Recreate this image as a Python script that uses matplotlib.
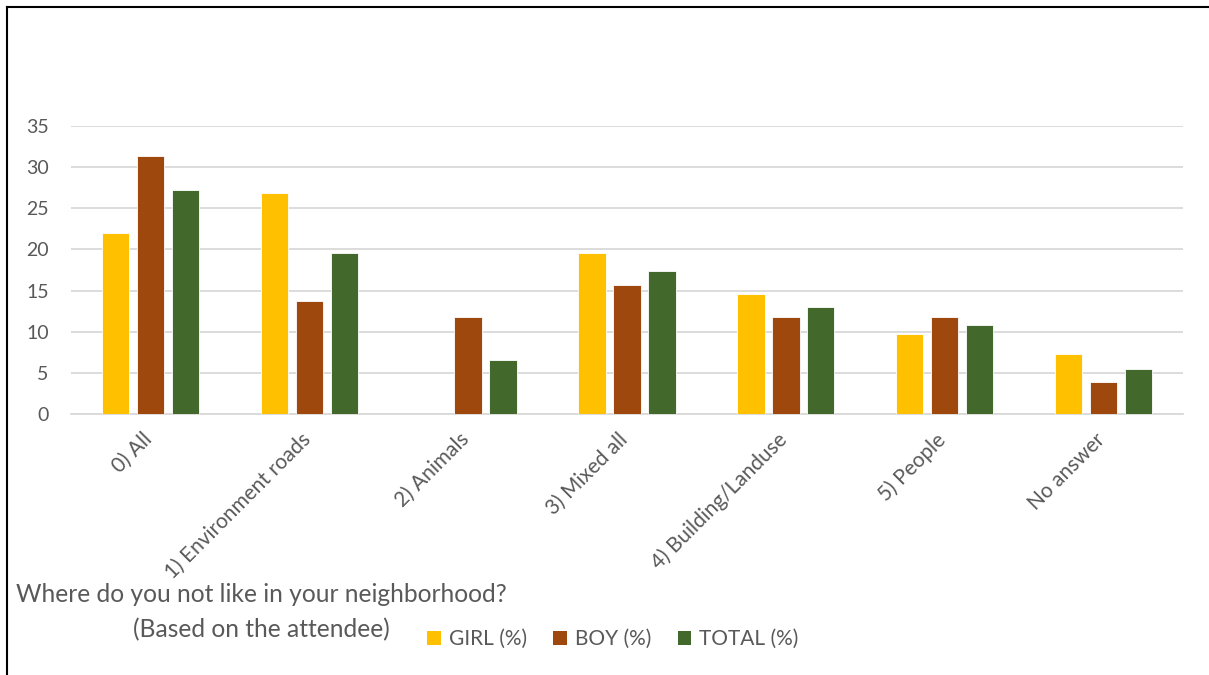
import matplotlib
matplotlib.use("Agg")
import matplotlib.pyplot as plt
import numpy as np
from matplotlib.lines import Line2D
from matplotlib.patches import Patch
from matplotlib.transforms import ScaledTranslation

categories = ["0) All", "1) Environment roads", "2) Animals", "3) Mixed all",
              "4) Building/Landuse", "5) People", "No answer"]
girl = [21.95, 26.83, 0.0, 19.51, 14.63, 9.76, 7.32]
boy = [31.37, 13.73, 11.76, 15.69, 11.76, 11.76, 3.92]
total = [27.17, 19.57, 6.52, 17.39, 13.04, 10.87, 5.43]
series_names = ["GIRL (%)", "BOY (%)", "TOTAL (%)"]
colors = ["#FFC000", "#9E480E", "#43682B"]
yticks = [0, 5, 10, 15, 20, 25, 30, 35]

plt.rcParams['font.family'] = ['Lato', 'DejaVu Sans']

W, H = 1209, 675
fig = plt.figure(figsize=(W / 100, H / 100), dpi=100)
fig.patch.set_facecolor("white")

ax = fig.add_axes([71 / W, 1 - 414 / H, (1183 - 71) / W, (414 - 126) / H])
x = np.arange(len(categories))
bw = 0.172
off = 0.22
for i, (vals, c, name) in enumerate(zip([girl, boy, total], colors, series_names)):
    ax.bar(x + (i - 1) * off, vals, width=bw, color=c, edgecolor="white",
           linewidth=0.6, label=name, zorder=3)

ax.set_xlim(-0.5, len(categories) - 0.5)
ax.set_ylim(0, 35)
ax.set_yticks(yticks)
ax.yaxis.grid(True, color="#D9D9D9", linewidth=1.3, zorder=0)
ax.set_axisbelow(True)
for s in ["top", "right", "left"]:
    ax.spines[s].set_visible(False)
ax.spines["bottom"].set_color("#D9D9D9")
ax.spines["bottom"].set_linewidth(1.3)
ax.tick_params(axis="both", length=0, labelcolor="#595959")
ax.tick_params(axis="y", pad=16, labelsize=14)
ax.tick_params(axis="x", pad=11, labelsize=15)
ax.set_xticks(x)
ax.set_xticklabels(categories, rotation=45, ha="right", va="top",
                   rotation_mode="anchor")
shift = ScaledTranslation(-9 / 100, 0, fig.dpi_scale_trans)
for lab in ax.get_xticklabels():
    lab.set_transform(lab.get_transform() + shift)

# title
fig.text(261 / W, 1 - 594 / H, "Where do you not like in your neighborhood?",
         ha="center", va="center", fontsize=17.7, color="#595959")
fig.text(261 / W, 1 - 630 / H, "(Based on the attendee)",
         ha="center", va="center", fontsize=17.7, color="#595959")

handles = [Patch(facecolor=c, edgecolor="none") for c in colors]
fig.legend(handles, series_names, loc="center", bbox_to_anchor=(613 / W, 1 - 639 / H),
           ncol=3, frameon=False, fontsize=15, labelcolor="#595959",
           handlelength=0.65, handleheight=0.65, handletextpad=0.4, columnspacing=1.25)

# frame lines
fig.add_artist(Line2D([7 / W, 1], [1 - 6.5 / H, 1 - 6.5 / H], color="black", linewidth=1.5,
                      transform=fig.transFigure))
fig.add_artist(Line2D([7 / W, 7 / W], [0, 1 - 6.5 / H], color="black", linewidth=1.5,
                      transform=fig.transFigure))

fig.savefig("out.png", dpi=100, facecolor="white")
